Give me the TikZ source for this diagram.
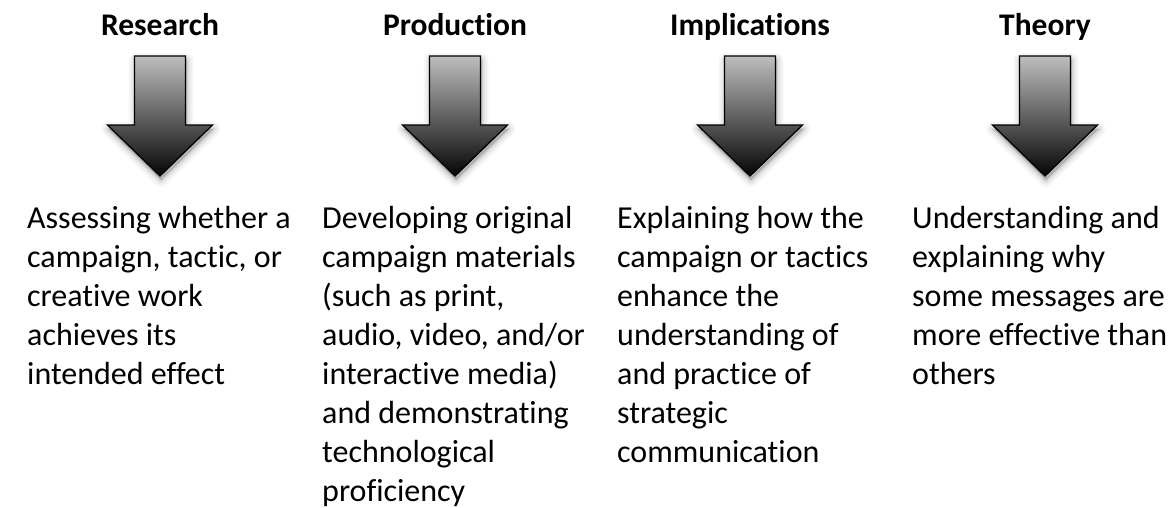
\documentclass[tikz,border=0pt]{standalone}
\usepackage{fontspec}
\setmainfont[Ligatures=NoCommon]{Carlito}
\begin{document}
\begin{tikzpicture}[x=1pt,y=-1pt,
  title/.style={anchor=base,inner sep=0pt,font=\fontsize{31.5}{38}\selectfont\bfseries},
  body/.style={anchor=north west,inner sep=0pt,align=left,font=\fontsize{32}{39}\selectfont},
  arrowfill/.style={top color={rgb,255:red,190;green,190;blue,190},middle color={rgb,255:red,128;green,128;blue,128},bottom color={rgb,255:red,5;green,5;blue,5},draw=black,line width=1.3pt,line join=miter},
]
\useasboundingbox (0,0) rectangle (1173,507);
\newcommand{\arrowpath}[1]{(#1-25.5,56) -- (#1+25.5,56) -- (#1+25.5,125) -- (#1+52.5,125) -- (#1,176) -- (#1-52.5,125) -- (#1-25.5,125) -- cycle}
\foreach \cx in {160,455,750,1045}{
  \foreach \w/\o in {14/0.03,10/0.04,6/0.05,3/0.07}{
    \draw[draw=black,fill=black,line width=\w pt,line join=round,opacity=\o,transform canvas={shift={(1pt,-4pt)}}] \arrowpath{\cx};
  }
  \shade[arrowfill] \arrowpath{\cx};
}
\node[title] (t1) at (160,35) {Research};
\node[title] (t2) at (455,35) {Production};
\node[title] (t3) at (750,35) {Implications};
\node[title] (t4) at (1045,35) {Theory};
\node[body] (b1) at (27,200.7) {\strut Assessing whether a\\campaign, tactic, or\\creative work\\achieves its\\intended effect};
\node[body] (b2) at (322,200.7) {\strut Developing original\\campaign materials\\(such as print,\\audio, video, and/or\\interactive media)\\and demonstrating\\technological\\proficiency};
\node[body] (b3) at (617,200.7) {\strut Explaining how the\\campaign or tactics\\enhance the\\understanding of\\and practice of\\strategic\\communication};
\node[body] (b4) at (912,200.7) {\strut Understanding and\\explaining why\\some messages are\\more effective than\\others};
\end{tikzpicture}
\end{document}
